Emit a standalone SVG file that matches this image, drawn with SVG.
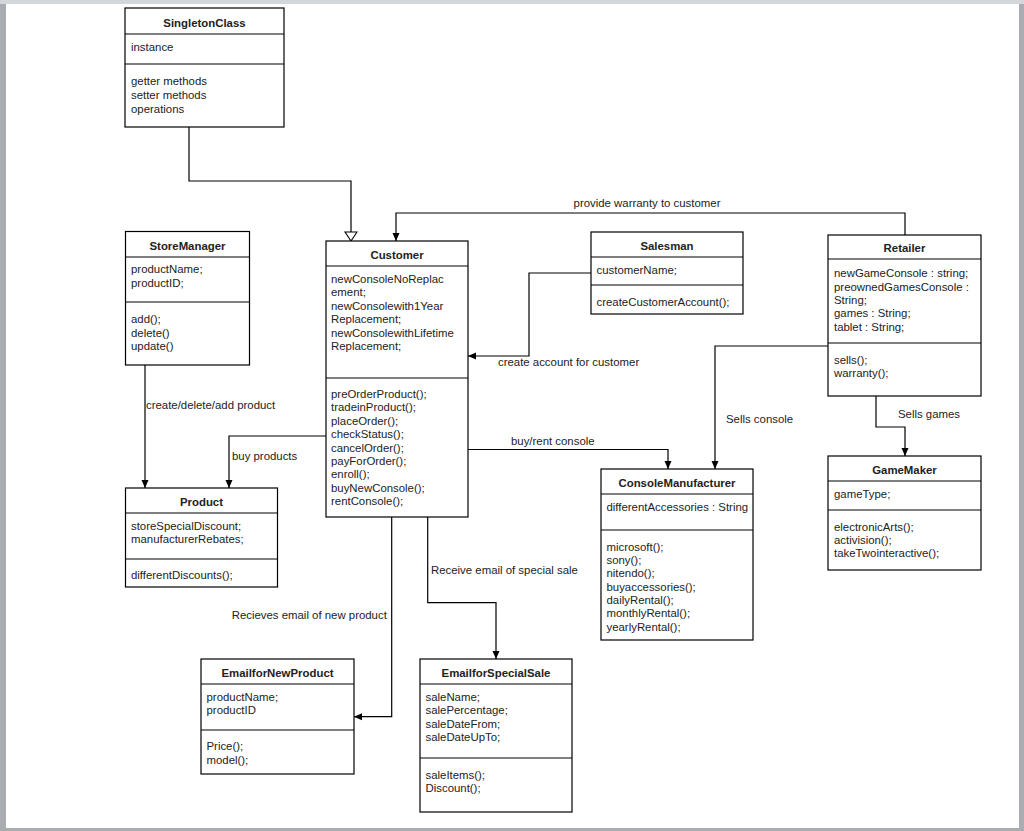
<svg xmlns="http://www.w3.org/2000/svg" width="1024" height="831" viewBox="0 0 1024 831">
<style>
text{font-family:"Liberation Sans",Arial,sans-serif;font-size:11.4px;fill:#222}
.t{font-weight:bold;text-anchor:middle}
.box rect{fill:#fff;stroke:#000;stroke-width:1.2}
.box line{stroke:#000;stroke-width:1.2}
.c path{fill:none;stroke:#000;stroke-width:1.2}
</style>
<defs>
<marker id="arr" markerUnits="userSpaceOnUse" markerWidth="10" markerHeight="10" refX="8" refY="4" orient="auto" viewBox="0 0 10 10">
<path d="M0,0.5 L8,4 L0,7.5 z" fill="#000"/>
</marker>
<marker id="gen" markerUnits="userSpaceOnUse" markerWidth="12" markerHeight="14" refX="10" refY="6.5" orient="auto" viewBox="0 0 12 14">
<path d="M1,0.5 L10,6.5 L1,12.5 z" fill="#fff" stroke="#000" stroke-width="1.1"/>
</marker>
</defs>
<rect x="0" y="0" width="1024" height="831" fill="#a9adb1"/>
<rect x="0" y="0" width="1024" height="4" fill="#d4d7da"/>
<rect x="6" y="4" width="1013" height="824" fill="#fff"/>

<g class="c" id="connectors">
<path d="M189,127 V181 H351 V241" marker-end="url(#gen)"/>
<path d="M905,235 V213 H396 V241" marker-end="url(#arr)"/>
<path d="M591,273 H529 V356 H468" marker-end="url(#arr)"/>
<path d="M145,365 V488" marker-end="url(#arr)"/>
<path d="M326,436 H229 V488" marker-end="url(#arr)"/>
<path d="M468,449.5 H668 V469" marker-end="url(#arr)"/>
<path d="M828,346 H715 V469" marker-end="url(#arr)"/>
<path d="M876,396 V427 H905 V456" marker-end="url(#arr)"/>
<path d="M391.7,517 V716.7 H354" marker-end="url(#arr)"/>
<path d="M427.7,517 V602.7 H496 V659" marker-end="url(#arr)"/>
<text x="647" y="207" text-anchor="middle">provide warranty to customer</text>
<text x="498" y="365.5">create account for customer</text>
<text x="146" y="409">create/delete/add product</text>
<text x="232" y="459.7">buy products</text>
<text x="511" y="445">buy/rent console</text>
<text x="726" y="423.3">Sells console</text>
<text x="898" y="418.3">Sells games</text>
<text x="231.7" y="619">Recieves email of new product</text>
<text x="431" y="573.7">Receive email of special sale</text>
</g>

<g class="box" id="SingletonClass">
<rect x="125" y="8" width="159" height="119"/>
<line x1="125" y1="34" x2="284" y2="34"/><line x1="125" y1="64" x2="284" y2="64"/>
<text class="t" x="204.5" y="26.5">SingletonClass</text>
<text x="131" y="51">instance</text>
<text x="131" y="85">getter methods<tspan x="131" dy="14">setter methods</tspan><tspan x="131" dy="14">operations</tspan></text>
</g>

<g class="box" id="StoreManager">
<rect x="125.5" y="231.5" width="124" height="133.5"/>
<line x1="125.5" y1="257" x2="249.5" y2="257"/><line x1="125.5" y1="302" x2="249.5" y2="302"/>
<text class="t" x="187.5" y="249.7">StoreManager</text>
<text x="131" y="273">productName;<tspan x="131" dy="13.7">productID;</tspan></text>
<text x="131" y="323">add();<tspan x="131" dy="13.5">delete()</tspan><tspan x="131" dy="13.5">update()</tspan></text>
</g>

<g class="box" id="Customer">
<rect x="326" y="241" width="142" height="276"/>
<line x1="326" y1="266" x2="468" y2="266"/><line x1="326" y1="378" x2="468" y2="378"/>
<text class="t" x="397" y="259">Customer</text>
<text x="331" y="283">newConsoleNoReplac<tspan x="331" dy="13.4">ement;</tspan><tspan x="331" dy="13.4">newConsolewith1Year</tspan><tspan x="331" dy="13.4">Replacement;</tspan><tspan x="331" dy="13.4">newConsolewithLifetime</tspan><tspan x="331" dy="13.4">Replacement;</tspan></text>
<text x="331" y="398">preOrderProduct();<tspan x="331" dy="13.4">tradeinProduct();</tspan><tspan x="331" dy="13.4">placeOrder();</tspan><tspan x="331" dy="13.4">checkStatus();</tspan><tspan x="331" dy="13.4">cancelOrder();</tspan><tspan x="331" dy="13.4">payForOrder();</tspan><tspan x="331" dy="13.4">enroll();</tspan><tspan x="331" dy="13.4">buyNewConsole();</tspan><tspan x="331" dy="13.4">rentConsole();</tspan></text>
</g>

<g class="box" id="Salesman">
<rect x="591" y="232" width="152" height="82"/>
<line x1="591" y1="257" x2="743" y2="257"/><line x1="591" y1="285" x2="743" y2="285"/>
<text class="t" x="667" y="249.7">Salesman</text>
<text x="596.5" y="274">customerName;</text>
<text x="596.5" y="306">createCustomerAccount();</text>
</g>

<g class="box" id="Retailer">
<rect x="828" y="235" width="153" height="161"/>
<line x1="828" y1="259" x2="981" y2="259"/><line x1="828" y1="343" x2="981" y2="343"/>
<text class="t" x="904.5" y="252">Retailer</text>
<text x="834" y="277.3">newGameConsole : string;<tspan x="834" dy="13.3">preownedGamesConsole :</tspan><tspan x="834" dy="13.3">String;</tspan><tspan x="834" dy="13.3">games : String;</tspan><tspan x="834" dy="13.3">tablet : String;</tspan></text>
<text x="834" y="364">sells();<tspan x="834" dy="13.3">warranty();</tspan></text>
</g>

<g class="box" id="Product">
<rect x="125.5" y="488" width="152" height="99"/>
<line x1="125.5" y1="513" x2="277.5" y2="513"/><line x1="125.5" y1="559" x2="277.5" y2="559"/>
<text class="t" x="201.5" y="506">Product</text>
<text x="131" y="529.7">storeSpecialDiscount;<tspan x="131" dy="13.3">manufacturerRebates;</tspan></text>
<text x="131" y="579.3">differentDiscounts();</text>
</g>

<g class="box" id="ConsoleManufacturer">
<rect x="601" y="469" width="152" height="171"/>
<line x1="601" y1="494" x2="753" y2="494"/><line x1="601" y1="530" x2="753" y2="530"/>
<text class="t" x="677" y="487.3">ConsoleManufacturer</text>
<text x="606.5" y="511">differentAccessories : String</text>
<text x="606.5" y="550.7">microsoft();<tspan x="606.5" dy="13.3">sony();</tspan><tspan x="606.5" dy="13.3">nitendo();</tspan><tspan x="606.5" dy="13.3">buyaccessories();</tspan><tspan x="606.5" dy="13.3">dailyRental();</tspan><tspan x="606.5" dy="13.3">monthlyRental();</tspan><tspan x="606.5" dy="13.3">yearlyRental();</tspan></text>
</g>

<g class="box" id="GameMaker">
<rect x="828" y="456" width="153" height="114"/>
<line x1="828" y1="481" x2="981" y2="481"/><line x1="828" y1="510" x2="981" y2="510"/>
<text class="t" x="904.5" y="474">GameMaker</text>
<text x="834" y="498.3">gameType;</text>
<text x="834" y="530.7">electronicArts();<tspan x="834" dy="13.3">activision();</tspan><tspan x="834" dy="13.3">takeTwointeractive();</tspan></text>
</g>

<g class="box" id="EmailforNewProduct">
<rect x="201" y="659" width="153" height="115"/>
<line x1="201" y1="684" x2="354" y2="684"/><line x1="201" y1="730" x2="354" y2="730"/>
<text class="t" x="277.5" y="677">EmailforNewProduct</text>
<text x="206.5" y="701">productName;<tspan x="206.5" dy="13.3">productID</tspan></text>
<text x="206.5" y="750.3">Price();<tspan x="206.5" dy="13.3">model();</tspan></text>
</g>

<g class="box" id="EmailforSpecialSale">
<rect x="420" y="659" width="152" height="153"/>
<line x1="420" y1="684" x2="572" y2="684"/><line x1="420" y1="758" x2="572" y2="758"/>
<text class="t" x="496" y="677">EmailforSpecialSale</text>
<text x="425.5" y="701">saleName;<tspan x="425.5" dy="13.3">salePercentage;</tspan><tspan x="425.5" dy="13.3">saleDateFrom;</tspan><tspan x="425.5" dy="13.3">saleDateUpTo;</tspan></text>
<text x="425.5" y="778.7">saleItems();<tspan x="425.5" dy="13.3">Discount();</tspan></text>
</g>
</svg>
